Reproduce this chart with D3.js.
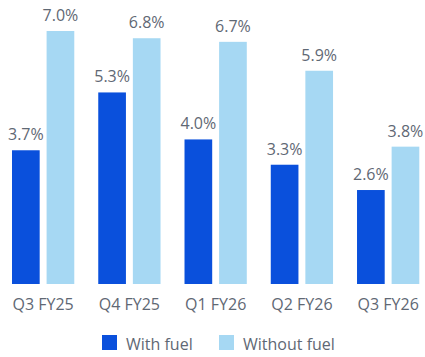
<!DOCTYPE html>
<html>
<head>
<meta charset="utf-8">
<script src="https://cdn.jsdelivr.net/npm/d3@7"></script>
<style>
  html, body { margin: 0; padding: 0; background: #fff; }
  svg { display: block; font-family: "Open Sans", Lato, sans-serif; }
</style>
</head>
<body>
<svg id="chart" width="425" height="357"></svg>
<script>
// Quarterly growth, with and without fuel
const quarters = ["Q3 FY25", "Q4 FY25", "Q1 FY26", "Q2 FY26", "Q3 FY26"];
const withFuel = [3.7, 5.3, 4.0, 3.3, 2.6];
const withoutFuel = [7.0, 6.8, 6.7, 5.9, 3.8];
const seriesNames = ["With fuel", "Without fuel"];
const seriesColors = ["#0a50dc", "#a6d8f3"];

const svg = d3.select("#chart");
const baseY = 284;
const textColor = "#5f6874";
const fontFam = "'Open Sans', Lato, sans-serif";

const x0 = d3.scaleBand().domain(quarters).range([12, 419.3]).paddingInner(0.278).paddingOuter(0);
const x1 = d3.scaleBand().domain(seriesNames).range([0, x0.bandwidth()]).paddingInner(0.2);
const y = d3.scaleLinear().domain([0, 7]).range([baseY, baseY - 253]);

const rows = quarters.map((q, i) => ({ q, vals: [withFuel[i], withoutFuel[i]] }));

const groups = svg.selectAll("g.grp").data(rows).join("g")
  .attr("class", "grp")
  .attr("transform", d => `translate(${x0(d.q)},0)`);

groups.selectAll("rect").data(d => d.vals.map((v, j) => ({ v, j }))).join("rect")
  .attr("x", d => x1(seriesNames[d.j]))
  .attr("y", d => y(d.v))
  .attr("width", x1.bandwidth())
  .attr("height", d => baseY - y(d.v))
  .attr("fill", d => seriesColors[d.j]);

groups.selectAll("text.val").data(d => d.vals.map((v, j) => ({ v, j }))).join("text")
  .attr("class", "val")
  .attr("x", d => x1(seriesNames[d.j]) + x1.bandwidth() / 2)
  .attr("y", d => y(d.v) - 10)
  .attr("text-anchor", "middle")
  .attr("font-size", 16)
  .attr("fill", textColor)
  .text(d => d.v.toFixed(1) + "%");

// Category axis labels
const xAxis = d3.axisBottom(x0).tickSize(0).tickPadding(0);
const ax = svg.append("g").attr("transform", `translate(0,${baseY})`).call(xAxis);
ax.select(".domain").remove();
ax.selectAll("text")
  .attr("dy", null)
  .attr("y", 25.5)
  .attr("font-size", 16)
  .attr("font-family", fontFam)
  .attr("fill", textColor);

// Legend
const legendX = [102, 219];
const legend = svg.selectAll("g.leg").data(seriesNames).join("g")
  .attr("class", "leg")
  .attr("transform", (d, i) => `translate(${legendX[i]},335)`);
legend.append("rect").attr("width", 15).attr("height", 15)
  .attr("fill", (d, i) => seriesColors[i]);
legend.append("text").attr("x", 24).attr("y", 14.5)
  .attr("font-size", 16)
  .attr("fill", textColor)
  .text(d => d);
</script>
</body>
</html>
